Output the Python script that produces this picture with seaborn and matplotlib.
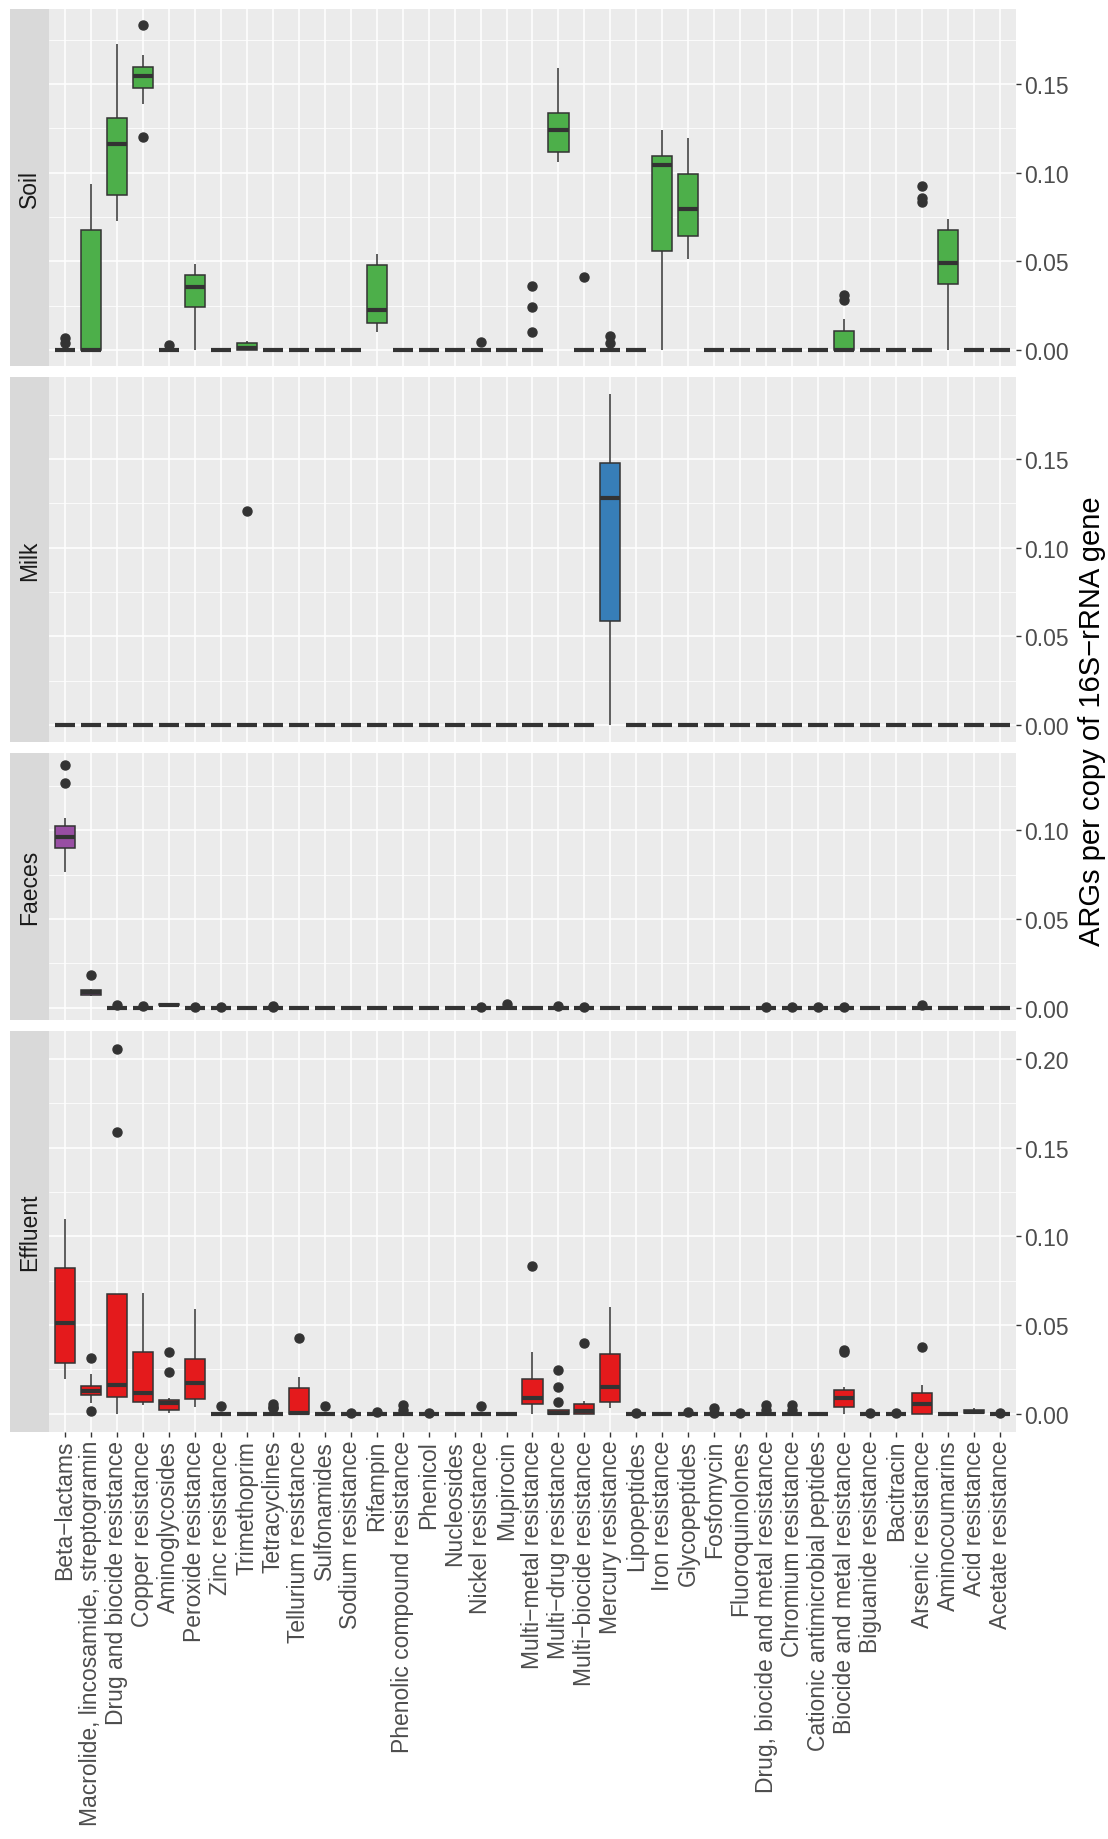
import numpy as np
import pandas as pd
import matplotlib
matplotlib.use("Agg")
import matplotlib.pyplot as plt
from matplotlib.ticker import MultipleLocator, FormatStrFormatter
import seaborn as sns

# ---------------- data ----------------
categories = [
    "Beta−lactams", "Macrolide, lincosamide, streptogramin", "Drug and biocide resistance",
    "Copper resistance", "Aminoglycosides", "Peroxide resistance", "Zinc resistance",
    "Trimethoprim", "Tetracyclines", "Tellurium resistance", "Sulfonamides", "Sodium resistance",
    "Rifampin", "Phenolic compound resistance", "Phenicol", "Nucleosides", "Nickel resistance",
    "Mupirocin", "Multi−metal resistance", "Multi−drug resistance", "Multi−biocide resistance",
    "Mercury resistance", "Lipopeptides", "Iron resistance", "Glycopeptides", "Fosfomycin",
    "Fluoroquinolones", "Drug, biocide and metal resistance", "Chromium resistance",
    "Cationic antimicrobial peptides", "Biocide and metal resistance", "Biguanide resistance",
    "Bacitracin", "Arsenic resistance", "Aminocoumarins", "Acid resistance", "Acetate resistance",
]
environments = ["Soil", "Milk", "Faeces", "Effluent"]
env_colors = ["#4DAF4A", "#377EB8", "#984EA3", "#E41A1C"]
N_SAMPLES = 13


def with_zeros(*vals):
    return [0.0] * (N_SAMPLES - len(vals)) + list(vals)


soil_values = {
    "Beta−lactams": with_zeros(0.004, 0.007),
    "Macrolide, lincosamide, streptogramin": [0, 0, 0, 0, 0, 0, 0, 0.012, 0.035, 0.0677, 0.075, 0.083, 0.0935],
    "Drug and biocide resistance": [0.0728, 0.078, 0.083, 0.0875, 0.095, 0.108, 0.1161, 0.121, 0.126, 0.1308, 0.142, 0.158, 0.1726],
    "Copper resistance": [0.1202, 0.1389, 0.144, 0.1477, 0.150, 0.152, 0.1543, 0.156, 0.158, 0.1594, 0.162, 0.1664, 0.1831],
    "Aminoglycosides": with_zeros(0.003),
    "Peroxide resistance": [0, 0.012, 0.020, 0.0245, 0.029, 0.033, 0.0358, 0.038, 0.040, 0.0423, 0.045, 0.047, 0.0486],
    "Trimethoprim": [0, 0, 0, 0, 0.0003, 0.0006, 0.001, 0.002, 0.003, 0.004, 0.0045, 0.0048, 0.005],
    "Rifampin": [0.0104, 0.012, 0.014, 0.0151, 0.018, 0.020, 0.0226, 0.030, 0.040, 0.0478, 0.050, 0.052, 0.054],
    "Nickel resistance": with_zeros(0.0043),
    "Multi−metal resistance": with_zeros(0.0104, 0.0245, 0.036),
    "Multi−drug resistance": [0.106, 0.108, 0.110, 0.1114, 0.116, 0.120, 0.1238, 0.127, 0.130, 0.1336, 0.140, 0.150, 0.159],
    "Multi−biocide resistance": with_zeros(0.041),
    "Mercury resistance": with_zeros(0.004, 0.008),
    "Iron resistance": [0, 0.02, 0.04, 0.0561, 0.075, 0.095, 0.1041, 0.106, 0.108, 0.1095, 0.113, 0.118, 0.1238],
    "Glycopeptides": [0.0512, 0.056, 0.060, 0.0645, 0.070, 0.075, 0.0796, 0.086, 0.093, 0.099, 0.105, 0.112, 0.1197],
    "Biocide and metal resistance": [0, 0, 0, 0, 0, 0, 0, 0.003, 0.007, 0.0107, 0.0173, 0.0285, 0.031],
    "Arsenic resistance": with_zeros(0.0835, 0.0855, 0.0925),
    "Aminocoumarins": [0, 0.015, 0.030, 0.0374, 0.042, 0.046, 0.0493, 0.055, 0.061, 0.0674, 0.070, 0.072, 0.074],
}

milk_values = {
    "Trimethoprim": with_zeros(0.1207),
    "Mercury resistance": [0, 0.015, 0.035, 0.0585, 0.085, 0.110, 0.1278, 0.135, 0.142, 0.1476, 0.160, 0.172, 0.1867],
}

faeces_values = {
    "Beta−lactams": [0.0768, 0.083, 0.087, 0.090, 0.093, 0.095, 0.0962, 0.098, 0.100, 0.1023, 0.107, 0.1268, 0.137],
    "Macrolide, lincosamide, streptogramin": [0.0068, 0.0071, 0.0073, 0.0075, 0.0082, 0.0086, 0.0089, 0.0094, 0.0099, 0.0103, 0.0105, 0.0108, 0.0187],
    "Drug and biocide resistance": with_zeros(0.0018),
    "Copper resistance": with_zeros(0.001),
    "Aminoglycosides": [0.001, 0.0012, 0.0014, 0.0015, 0.0016, 0.0017, 0.0018, 0.0019, 0.002, 0.0022, 0.0023, 0.0024, 0.0025],
    "Peroxide resistance": with_zeros(0.0003),
    "Zinc resistance": with_zeros(0.0003),
    "Tetracyclines": with_zeros(0.0005, 0.0012),
    "Nickel resistance": with_zeros(0.0004),
    "Mupirocin": with_zeros(0.0022),
    "Multi−drug resistance": with_zeros(0.0009),
    "Multi−biocide resistance": with_zeros(0.0004),
    "Drug, biocide and metal resistance": with_zeros(0.0005),
    "Chromium resistance": with_zeros(0.0005),
    "Cationic antimicrobial peptides": with_zeros(0.0005),
    "Biocide and metal resistance": with_zeros(0.0007),
    "Arsenic resistance": with_zeros(0.0014),
}

effluent_values = {
    "Beta−lactams": [0.0194, 0.022, 0.025, 0.0286, 0.035, 0.043, 0.0511, 0.060, 0.072, 0.082, 0.090, 0.100, 0.110],
    "Macrolide, lincosamide, streptogramin": [0.0018, 0.0062, 0.0085, 0.0105, 0.0115, 0.0122, 0.0128, 0.0138, 0.0148, 0.0158, 0.0195, 0.0226, 0.0316],
    "Drug and biocide resistance": [0, 0.004, 0.007, 0.0094, 0.011, 0.014, 0.0165, 0.030, 0.050, 0.0673, 0.0675, 0.1588, 0.2055],
    "Copper resistance": [0.0047, 0.0055, 0.006, 0.0068, 0.008, 0.010, 0.0115, 0.018, 0.026, 0.0348, 0.045, 0.056, 0.068],
    "Aminoglycosides": [0.0006, 0.0015, 0.002, 0.0024, 0.004, 0.0055, 0.0062, 0.0068, 0.0072, 0.0075, 0.009, 0.0237, 0.0348],
    "Peroxide resistance": [0.0038, 0.005, 0.007, 0.0086, 0.012, 0.015, 0.0175, 0.021, 0.026, 0.0306, 0.038, 0.048, 0.0588],
    "Zinc resistance": with_zeros(0.0043),
    "Tetracyclines": with_zeros(0.003, 0.004, 0.0055),
    "Tellurium resistance": [0, 0, 0, 0, 0, 0, 0.0005, 0.004, 0.009, 0.0143, 0.017, 0.0207, 0.0429],
    "Sulfonamides": with_zeros(0.0043),
    "Sodium resistance": with_zeros(0.0005),
    "Rifampin": with_zeros(0.0008),
    "Phenolic compound resistance": with_zeros(0.002, 0.005),
    "Phenicol": with_zeros(0.0003),
    "Nickel resistance": with_zeros(0.0042),
    "Multi−metal resistance": [0, 0.002, 0.004, 0.0053, 0.0065, 0.008, 0.009, 0.012, 0.016, 0.0194, 0.025, 0.0348, 0.0831],
    "Multi−drug resistance": [0, 0, 0, 0, 0.0003, 0.0004, 0.0005, 0.001, 0.0018, 0.0024, 0.0065, 0.015, 0.0244],
    "Multi−biocide resistance": [0, 0, 0, 0, 0.0005, 0.001, 0.0015, 0.0025, 0.004, 0.0053, 0.006, 0.007, 0.040],
    "Mercury resistance": [0.003, 0.0045, 0.0055, 0.0068, 0.009, 0.012, 0.015, 0.020, 0.027, 0.0338, 0.042, 0.051, 0.0602],
    "Lipopeptides": with_zeros(0.0003),
    "Glycopeptides": with_zeros(0.0012),
    "Fosfomycin": with_zeros(0.0004, 0.0035),
    "Fluoroquinolones": with_zeros(0.0003),
    "Drug, biocide and metal resistance": with_zeros(0.0022, 0.0048),
    "Chromium resistance": with_zeros(0.002, 0.0048),
    "Biocide and metal resistance": [0, 0.001, 0.002, 0.0038, 0.0055, 0.0075, 0.009, 0.0105, 0.012, 0.0132, 0.015, 0.0348, 0.0357],
    "Biguanide resistance": with_zeros(0.0002),
    "Bacitracin": with_zeros(0.0002),
    "Arsenic resistance": [0, 0, 0, 0, 0.002, 0.004, 0.0053, 0.007, 0.009, 0.0118, 0.013, 0.0165, 0.0376],
    "Acid resistance": [0, 0, 0, 0.0005, 0.0007, 0.0009, 0.001, 0.0013, 0.0016, 0.0019, 0.0024, 0.003, 0.0034],
    "Acetate resistance": with_zeros(0.0003),
}

env_values = [soil_values, milk_values, faeces_values, effluent_values]
y_title = "ARGs per copy of 16S−rRNA gene"

# ---------------- long table ----------------
rows = []
for env, vals in zip(environments, env_values):
    for cat in categories:
        for v in vals.get(cat, [0.0] * N_SAMPLES):
            rows.append((env, cat, float(v)))
df = pd.DataFrame(rows, columns=["environment", "category", "value"])

# ---------------- style ----------------
sns.set_theme(style="white")
plt.rcParams["font.family"] = ["Liberation Sans", "DejaVu Sans"]

W, H = 1108, 1840
fig = plt.figure(figsize=(W / 100, H / 100), dpi=100)

px_left, px_right = 49, 1016
strip_left = 10
panel_top, panel_bottom, gap = 10, 1433, 11

ymaxs = [df.loc[df.environment == e, "value"].max() for e in environments]
spans = [m * 1.1 for m in ymaxs]
total_h = panel_bottom - panel_top - gap * (len(environments) - 1)

TEXT_COL = "#4D4D4D"
LINE_COL = "#333333"
FS = 16.5

top = panel_top
for i, (env, col) in enumerate(zip(environments, env_colors)):
    h = total_h * spans[i] / sum(spans)
    rect = [px_left / W, 1 - (top + h) / H, (px_right - px_left) / W, h / H]
    ax = fig.add_axes(rect)
    ax.set_facecolor("#EBEBEB")
    sub = df[df.environment == env]
    sns.boxplot(
        data=sub, x="category", y="value", order=categories, color=col,
        saturation=1, width=0.77, linecolor=LINE_COL, linewidth=1.1,
        fliersize=6.5, showcaps=False, ax=ax,
        flierprops=dict(marker="o", markerfacecolor=LINE_COL, markeredgecolor=LINE_COL),
        medianprops=dict(linewidth=3.0, color=LINE_COL),
    )
    ymax = ymaxs[i]
    ax.set_ylim(-0.05 * ymax, 1.05 * ymax)
    ax.set_xlim(-0.6, len(categories) - 0.4)
    ax.set_xlabel("")
    ax.set_ylabel("")
    for s in ax.spines.values():
        s.set_visible(False)
    ax.set_axisbelow(True)
    ax.yaxis.set_major_locator(MultipleLocator(0.05))
    ax.yaxis.set_minor_locator(MultipleLocator(0.025))
    ax.yaxis.set_major_formatter(FormatStrFormatter("%.2f"))
    ax.yaxis.tick_right()
    ax.grid(which="major", axis="both", color="white", linewidth=1.1)
    ax.grid(which="minor", axis="y", color="white", linewidth=0.55)
    ax.tick_params(axis="y", which="major", length=3.6, width=1.0, color=LINE_COL,
                   labelsize=FS, labelcolor=TEXT_COL, pad=2, right=True, left=False)
    ax.tick_params(axis="y", which="minor", length=0)
    if i == len(environments) - 1:
        ax.set_xticks(range(len(categories)))
        ax.set_xticklabels(categories, rotation=90, ha="center", va="top")
        ax.tick_params(axis="x", length=3.6, width=1.0, color=LINE_COL,
                       labelsize=FS, labelcolor=TEXT_COL, pad=2, bottom=True)
    else:
        ax.set_xticks(range(len(categories)))
        ax.tick_params(axis="x", length=0, labelbottom=False)

    # strip on the left
    sax = fig.add_axes([strip_left / W, rect[1], (px_left - strip_left) / W, rect[3]])
    sax.set_facecolor("#D9D9D9")
    sax.set_xticks([])
    sax.set_yticks([])
    for s in sax.spines.values():
        s.set_visible(False)
    sax.text(0.5, 0.5, env, rotation=90, ha="center", va="center",
             fontsize=FS, color="#1A1A1A", transform=sax.transAxes)

    top += h + gap

fig.text(1092 / W, 1 - ((panel_top + panel_bottom) / 2) / H, y_title, rotation=90,
         ha="center", va="center", fontsize=21, color="black")

fig.savefig("out.png", dpi=100, facecolor="white")
